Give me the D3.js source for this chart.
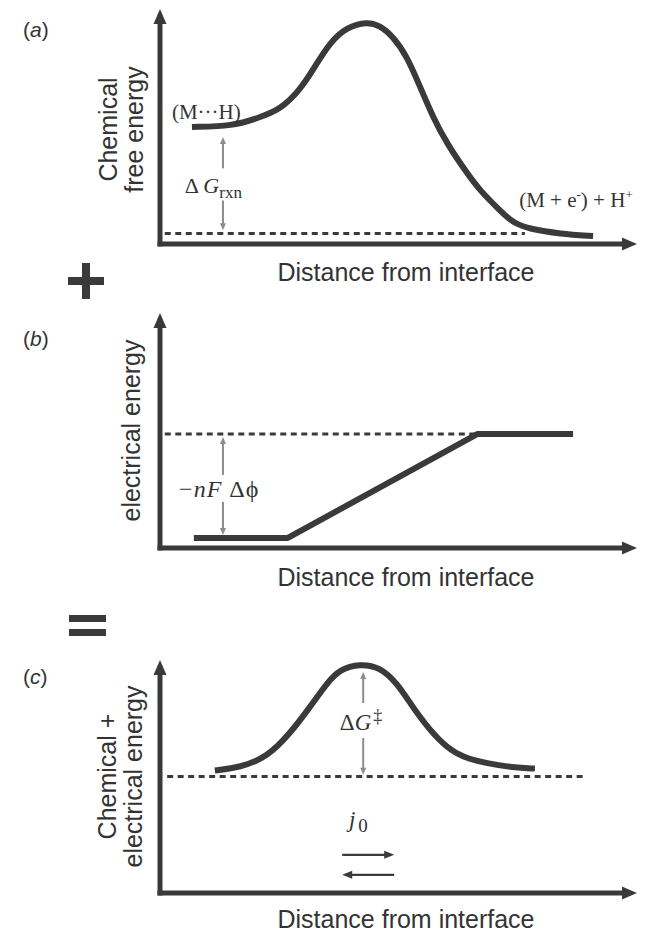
<!DOCTYPE html>
<html>
<head>
<meta charset="utf-8">
<script src="https://cdn.jsdelivr.net/npm/d3@7"></script>
<style>
  body { margin: 0; background: #fff; }
</style>
</head>
<body>
<div id="chart"></div>
<script>
// Energy diagrams: chemical + electrical = total
// Values are in arbitrary units, 0-100 on both axes of every panel

const xAxisLabel = 'Distance from interface';

// (a) chemical free energy
const chemX = [6.7, 15.3, 20.5, 25.2, 29.4, 32.1, 35.6, 39.2, 43.4, 46.1, 48.8, 51.8, 54.5, 57.2, 60.1, 64.4, 67.1, 71.3, 74.0, 77.4, 83.9, 90.8];
const chemY = [49.8, 50.2, 53.6, 57.1, 65.7, 74.2, 85.8, 92.3, 94.6, 93.0, 88.4, 79.8, 67.0, 54.1, 42.9, 30.0, 22.7, 14.2, 9.0, 6.4, 4.3, 3.4];
const chemBase = 4.5;           // dashed reference level
const chemBaseX = [1, 76.5];

// (b) electrical energy
const elecX = [7.1, 26.8, 66.5, 86.6];
const elecY = [4.3, 4.3, 48.5, 48.5];
const elecBase = 48.5;
const elecBaseX = [1, 66.5];

// (c) chemical + electrical energy
const totalX = [11.5, 16.8, 22.4, 27.3, 31.4, 35.0, 37.7, 41.9, 46.1, 49.7, 53.0, 56.6, 60.1, 63.5, 68.6, 74.0, 78.6];
const totalY = [52.6, 53.9, 58.2, 68.5, 79.7, 90.1, 96.0, 98.4, 97.0, 90.1, 79.7, 69.8, 62.5, 58.2, 55.6, 53.9, 53.4];
const totalBase = 50.0;
const totalBaseX = [1.5, 88.7];

const W = 650, H = 934;
const ink = '#3a3a3a';
const textInk = '#333';
const grayArrow = '#8c8c8c';
const sans = '"Liberation Sans", Arial, Helvetica, sans-serif';
const serif = '"Liberation Serif", "Times New Roman", serif';

const svg = d3.select('#chart').append('svg')
    .attr('width', W)
    .attr('height', H)
    .style('background', '#fff');

const x = d3.scaleLinear().domain([0, 100]).range([160, 637]);

// filled triangle with its tip at (tx, ty), pointing in direction dir
function arrowHead(g, tx, ty, dir, len, wid, color) {
    const pts = {
        up:    [[tx, ty], [tx - wid / 2, ty + len], [tx + wid / 2, ty + len]],
        down:  [[tx, ty], [tx - wid / 2, ty - len], [tx + wid / 2, ty - len]],
        right: [[tx, ty], [tx - len, ty - wid / 2], [tx - len, ty + wid / 2]],
        left:  [[tx, ty], [tx + len, ty - wid / 2], [tx + len, ty + wid / 2]]
    }[dir];
    g.append('path')
        .attr('d', 'M' + pts.map(p => p.join(',')).join('L') + 'Z')
        .attr('fill', color);
}

function makePanel(p) {
    const y = d3.scaleLinear().domain([0, 100]).range([p.axisY, p.top]);
    const g = svg.append('g');

    // axes
    g.append('line')
        .attr('x1', x(0)).attr('x2', x(0))
        .attr('y1', y(0) + 2.5).attr('y2', y(100) + 12)
        .attr('stroke', ink).attr('stroke-width', 5);
    arrowHead(g, x(0), y(100), 'up', 15, 13, ink);

    g.append('line')
        .attr('x1', x(0) - 2.5).attr('x2', x(100) - 12)
        .attr('y1', y(0)).attr('y2', y(0))
        .attr('stroke', ink).attr('stroke-width', 5);
    arrowHead(g, x(100), y(0), 'right', 15, 13, ink);

    // panel letter
    const lt = g.append('text')
        .attr('x', 23).attr('y', p.letterY)
        .style('font-family', sans).style('font-size', '21px')
        .attr('fill', textInk);
    lt.append('tspan').text('(');
    lt.append('tspan').style('font-style', 'italic').text(p.letter);
    lt.append('tspan').text(')');

    // y label (one or two lines)
    p.yLabel.forEach((line, i) => {
        g.append('text')
            .attr('transform', `translate(${p.yLabelX[i]},${(y(0) + y(100)) / 2 + p.yLabelDy}) rotate(-90)`)
            .attr('text-anchor', 'middle')
            .style('font-family', sans).style('font-size', '25px')
            .attr('fill', textInk)
            .text(line);
    });

    // x label
    g.append('text')
        .attr('x', 406).attr('y', p.xLabelY)
        .attr('text-anchor', 'middle')
        .style('font-family', sans).style('font-size', '25px')
        .attr('fill', textInk)
        .text(xAxisLabel);

    return { g, y };
}

function dashed(g, y, xs, level) {
    g.append('line')
        .attr('x1', x(xs[0])).attr('x2', x(xs[1]))
        .attr('y1', y(level)).attr('y2', y(level))
        .attr('stroke', ink).attr('stroke-width', 3)
        .attr('stroke-dasharray', '6,4.5');
}

function curve(g, y, xs, ys, kind) {
    const line = d3.line()
        .x(d => x(d[0]))
        .y(d => y(d[1]))
        .curve(kind);
    g.append('path')
        .datum(xs.map((v, i) => [v, ys[i]]))
        .attr('d', line)
        .attr('fill', 'none')
        .attr('stroke', ink)
        .attr('stroke-width', 6)
        .attr('stroke-linejoin', 'round');
}

// split vertical gray arrow with a gap for the label
function gapArrow(g, y, xv, top, gapTop, gapBottom, bottom) {
    const px = x(xv);
    g.append('line').attr('x1', px).attr('x2', px)
        .attr('y1', y(top) + 5).attr('y2', y(gapTop))
        .attr('stroke', grayArrow).attr('stroke-width', 2);
    g.append('line').attr('x1', px).attr('x2', px)
        .attr('y1', y(gapBottom)).attr('y2', y(bottom) - 5)
        .attr('stroke', grayArrow).attr('stroke-width', 2);
    arrowHead(g, px, y(top), 'up', 7, 6, grayArrow);
    arrowHead(g, px, y(bottom), 'down', 7, 6, grayArrow);
}

// ---------- (a) ----------
const pa = makePanel({
    axisY: 244, top: 9, letter: 'a', letterY: 37,
    yLabel: ['Chemical', 'free energy'], yLabelX: [117, 143], yLabelDy: 3,
    xLabelY: 281
});
dashed(pa.g, pa.y, chemBaseX, chemBase);
curve(pa.g, pa.y, chemX, chemY, d3.curveBasis);
gapArrow(pa.g, pa.y, 13.2, 45.5, 32.2, 18.5, 5.8);

pa.g.append('text')
    .attr('x', x(2.5)).attr('y', pa.y(53.2))
    .style('font-family', serif).style('font-size', '21px')
    .attr('fill', textInk)
    .text('(M\u00B7\u00B7\u00B7H)');

const dGa = pa.g.append('text')
    .attr('x', x(5.2)).attr('y', pa.y(21.5))
    .style('font-family', serif).style('font-size', '22px')
    .attr('fill', textInk);
dGa.append('tspan').text('\u0394\u2009');
dGa.append('tspan').style('font-style', 'italic').text('G');
dGa.append('tspan').attr('dy', 5).style('font-size', '17px').text('rxn');

const prod = pa.g.append('text')
    .attr('x', x(75.3)).attr('y', pa.y(15.6))
    .style('font-family', serif).style('font-size', '21px')
    .attr('fill', textInk);
prod.append('tspan').text('(M + e');
prod.append('tspan').attr('dy', -8).style('font-size', '13px').text('-');
prod.append('tspan').attr('dy', 8).text(') + H');
prod.append('tspan').attr('dy', -8).style('font-size', '13px').text('+');

// plus sign
svg.append('rect').attr('x', 68).attr('y', 277).attr('width', 36).attr('height', 8).attr('fill', ink);
svg.append('rect').attr('x', 82).attr('y', 263).attr('width', 8).attr('height', 36).attr('fill', ink);

// ---------- (b) ----------
const pb = makePanel({
    axisY: 548, top: 313, letter: 'b', letterY: 346,
    yLabel: ['electrical energy'], yLabelX: [140], yLabelDy: 0,
    xLabelY: 586
});
dashed(pb.g, pb.y, elecBaseX, elecBase);
curve(pb.g, pb.y, elecX, elecY, d3.curveLinear);
gapArrow(pb.g, pb.y, 13.2, 47.2, 31.1, 19.6, 5.5);

const nf = pb.g.append('text')
    .attr('x', x(4.0)).attr('y', pb.y(21.5))
    .style('font-family', serif).style('font-size', '24px')
    .style('letter-spacing', '1px')
    .attr('fill', textInk);
nf.append('tspan').text('\u2212');
nf.append('tspan').style('font-style', 'italic').text('nF');
nf.append('tspan').text(' \u0394\u03D5');

// equals sign
svg.append('rect').attr('x', 69).attr('y', 615).attr('width', 37).attr('height', 7).attr('fill', ink);
svg.append('rect').attr('x', 69).attr('y', 629).attr('width', 37).attr('height', 7).attr('fill', ink);

// ---------- (c) ----------
const pc = makePanel({
    axisY: 893, top: 660, letter: 'c', letterY: 684,
    yLabel: ['Chemical +', 'electrical energy'], yLabelX: [116, 142], yLabelDy: 0,
    xLabelY: 928
});
dashed(pc.g, pc.y, totalBaseX, totalBase);
curve(pc.g, pc.y, totalX, totalY, d3.curveBasis);
gapArrow(pc.g, pc.y, 42.6, 94.8, 81.5, 66.5, 50.8);

const dGc = pc.g.append('text')
    .attr('x', x(37.7)).attr('y', pc.y(70.0))
    .style('font-family', serif).style('font-size', '23px')
    .attr('fill', textInk);
dGc.append('tspan').text('\u0394');
dGc.append('tspan').style('font-style', 'italic').text('G');
dGc.append('tspan').attr('dy', -8).attr('dx', 2).style('font-size', '18px').text('\u2021');

const j0 = pc.g.append('text')
    .attr('x', x(39.6)).attr('y', pc.y(28.5))
    .style('font-family', serif).style('font-size', '23px')
    .attr('fill', textInk);
j0.append('tspan').style('font-style', 'italic').text('j');
j0.append('tspan').attr('dy', 5).attr('dx', 3).style('font-size', '19px').text('0');

// exchange arrows
const fwdY = pc.y(16.4), bwdY = pc.y(7.8);
pc.g.append('line').attr('x1', x(38.2)).attr('x2', x(49.1) - 8)
    .attr('y1', fwdY).attr('y2', fwdY).attr('stroke', ink).attr('stroke-width', 2.2);
arrowHead(pc.g, x(49.1), fwdY, 'right', 10, 8, ink);
pc.g.append('line').attr('x1', x(49.1)).attr('x2', x(38.2) + 8)
    .attr('y1', bwdY).attr('y2', bwdY).attr('stroke', ink).attr('stroke-width', 2.2);
arrowHead(pc.g, x(38.2), bwdY, 'left', 10, 8, ink);
</script>
</body>
</html>
